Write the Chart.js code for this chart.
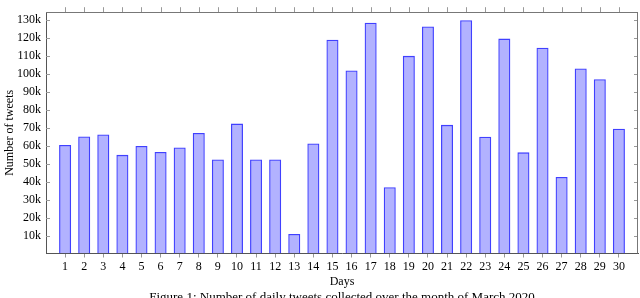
<!DOCTYPE html>
<html>
<head>
<meta charset="utf-8">
<script src="https://cdn.jsdelivr.net/npm/chart.js@4/dist/chart.umd.min.js"></script>
<style>
  html, body { margin: 0; padding: 0; background: #fff; overflow: hidden; }
  #wrap { position: relative; width: 640px; height: 298px; }
  #caption {
    position: absolute; left: 46px; width: 592px; top: 290px;
    font: 13px "Liberation Serif", serif; line-height: 14px;
    text-align: center; color: #000; white-space: nowrap;
  }
</style>
</head>
<body>
<div id="wrap">
  <canvas id="c" width="640" height="298"></canvas>
  <div id="caption">Figure 1: Number of daily tweets collected over the month of March 2020</div>
</div>
<script>
// data
var days = [1, 2, 3, 4, 5, 6, 7, 8, 9, 10, 11, 12, 13, 14, 15,
            16, 17, 18, 19, 20, 21, 22, 23, 24, 25, 26, 27, 28, 29, 30];
var tweets = [60400, 65100, 66300, 54900, 59900, 56500, 59000, 67100, 52300, 72300,
              52300, 52300, 10900, 61200, 119000, 101900, 128400, 36900, 110000, 126400,
              71600, 129800, 65000, 119600, 56300, 114500, 42600, 103000, 97000, 69500];
var yTicks = [10000, 20000, 30000, 40000, 50000, 60000, 70000, 80000, 90000, 100000, 110000, 120000, 130000];

var serif = '"Liberation Serif", "Times New Roman", serif';

var points = [];
for (var i = 0; i < days.length; i++) {
    points.push({x: days[i], y: tweets[i]});
}

// pgfplots-like frame: top/right border and the little tick marks
var framePlugin = {
    id: 'frame',
    afterDraw: function(chart) {
        var ctx = chart.ctx, a = chart.chartArea;
        var xs = chart.scales.x, ys = chart.scales.y;
        ctx.save();
        ctx.lineWidth = 1;
        ctx.strokeStyle = '#999';
        ctx.beginPath();
        for (var i = 0; i < days.length; i++) {
            var px = Math.round(xs.getPixelForValue(days[i])) + 0.5;
            ctx.moveTo(px, a.top);
            ctx.lineTo(px, a.top - 5);
        }
        for (var j = 0; j < yTicks.length; j++) {
            var py = Math.round(ys.getPixelForValue(yTicks[j])) + 0.5;
            ctx.moveTo(a.left, py);
            ctx.lineTo(a.left + 4, py);
            ctx.moveTo(a.right, py);
            ctx.lineTo(a.right - 4, py);
        }
        ctx.stroke();
        ctx.strokeStyle = '#777';
        ctx.beginPath();
        ctx.moveTo(a.left, Math.round(a.top) + 0.5);
        ctx.lineTo(a.right, Math.round(a.top) + 0.5);
        ctx.moveTo(Math.round(a.right) - 0.5, a.top);
        ctx.lineTo(Math.round(a.right) - 0.5, a.bottom);
        ctx.stroke();
        ctx.restore();
    }
};

new Chart(document.getElementById('c'), {
    type: 'bar',
    data: {
        datasets: [{
            data: points,
            backgroundColor: 'rgba(0, 0, 255, 0.3)',
            borderColor: 'rgba(30, 30, 255, 0.85)',
            borderWidth: 1.3,
            barPercentage: 0.63,
            categoryPercentage: 1
        }]
    },
    options: {
        responsive: false,
        animation: false,
        layout: { padding: { top: 5, right: 2, left: 0, bottom: 0 } },
        plugins: { legend: { display: false }, tooltip: { enabled: false } },
        scales: {
            x: {
                type: 'linear',
                min: 0,
                max: 31,
                offset: false,
                afterFit: function(s) { s.height = 44.5; },
                afterBuildTicks: function(s) {
                    s.ticks = days.map(function(d) { return {value: d}; });
                },
                grid: { display: true, drawOnChartArea: false, drawTicks: true, tickLength: 4,
                        color: '#999', offset: false },
                border: { display: true, color: '#555', width: 1 },
                ticks: { color: '#000', font: { family: serif, size: 12 }, padding: 2,
                         maxRotation: 0, autoSkip: false },
                title: { display: true, text: 'Days', color: '#000',
                         font: { family: serif, size: 12 }, padding: { top: 0, bottom: 9 } }
            },
            y: {
                min: 0,
                max: 134300,
                afterFit: function(s) { s.width = 46; },
                afterBuildTicks: function(s) {
                    s.ticks = yTicks.map(function(v) { return {value: v}; });
                },
                grid: { display: false, drawTicks: false },
                border: { display: true, color: '#555', width: 1 },
                ticks: { color: '#000', font: { family: serif, size: 12 }, padding: 5,
                         callback: function(v) { return (v / 1000) + 'k'; } },
                title: { display: true, text: 'Number of tweets', color: '#000',
                         font: { family: serif, size: 12 }, padding: { top: 3, bottom: 0 } }
            }
        }
    },
    plugins: [framePlugin]
});
</script>
</body>
</html>
